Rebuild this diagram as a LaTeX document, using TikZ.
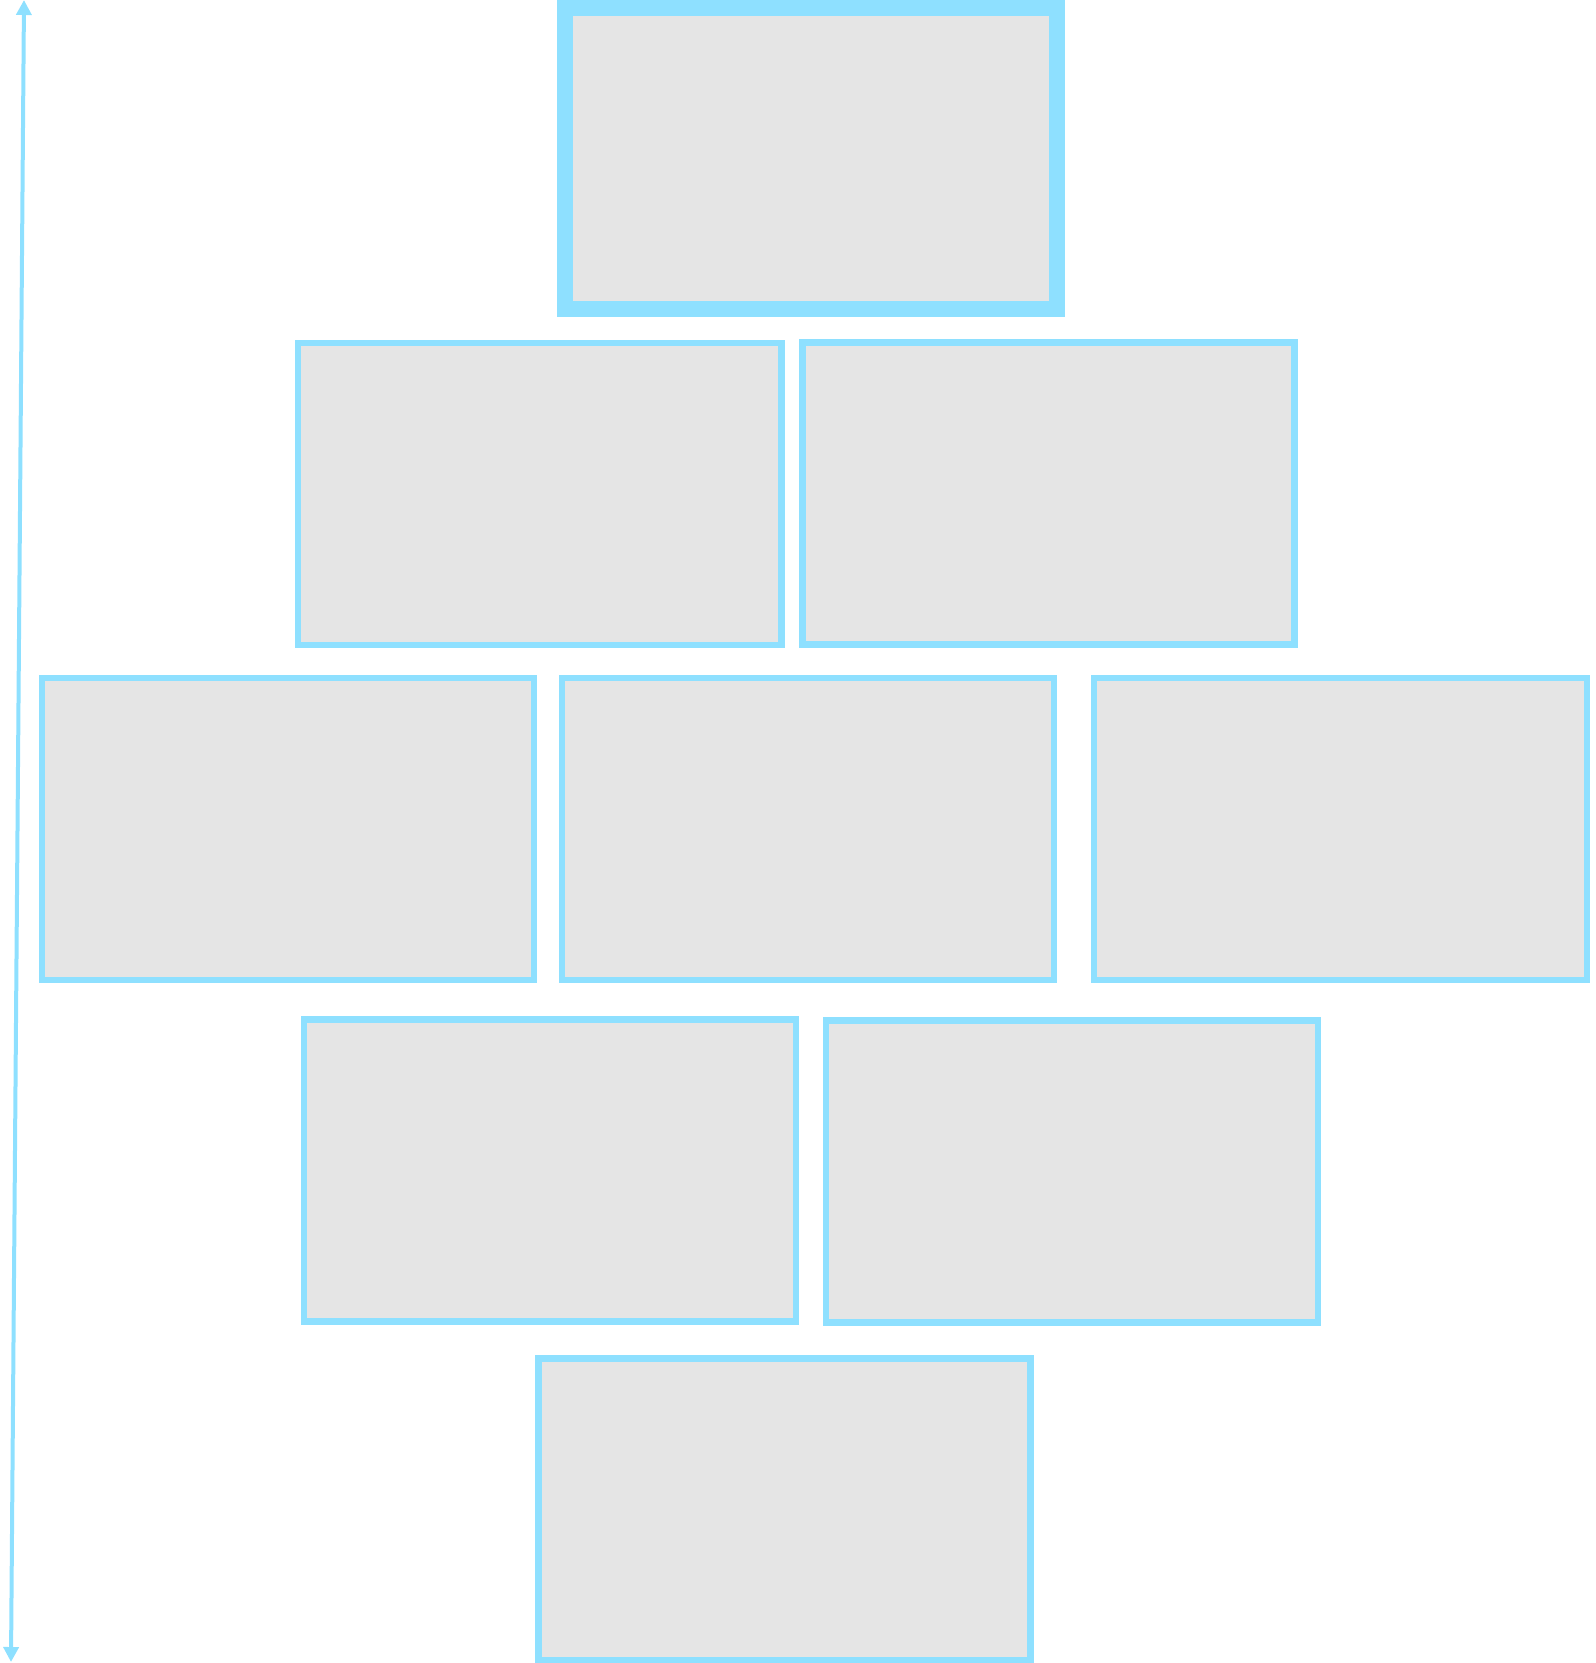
\documentclass[tikz,border=0pt]{standalone}
\usetikzlibrary{arrows.meta}
\definecolor{edgeblue}{RGB}{142,224,255}
\definecolor{boxgrey}{RGB}{229,229,229}
\begin{document}
\begin{tikzpicture}[x=1pt,y=-1pt,
  box/.style={draw=edgeblue, fill=boxgrey, line width=6.4pt, rectangle, inner sep=0pt, outer sep=0pt, minimum height=302pt, minimum width=492pt},
  topbox/.style={box, line width=16pt},
  axis/.style={draw=edgeblue, line width=4pt, {Triangle[width=15pt,length=15pt]}-{Triangle[width=15pt,length=15pt]}}]
\useasboundingbox (0,0) rectangle (1596,1663);
\node[topbox, minimum width=492pt, minimum height=301pt] (t) at (811,158.5) {};
\node[box, minimum width=483.5pt] (r2a) at (539.75,493.8) {};
\node[box, minimum width=491.8pt] (r2b) at (1048.4,493.6) {};
\node[box, minimum width=491.8pt] (r3a) at (288.1,828.9) {};
\node[box] (r3b) at (808,828.9) {};
\node[box, minimum width=493.4pt] (r3c) at (1340.5,828.7) {};
\node[box] (r4a) at (550,1170.5) {};
\node[box] (r4b) at (1072,1171.5) {};
\node[box] (r5) at (784.5,1509.5) {};
\coordinate (atop) at (24,0);
\coordinate (abot) at (11,1662);
\draw[axis] (atop) -- (abot);
\end{tikzpicture}
\end{document}
